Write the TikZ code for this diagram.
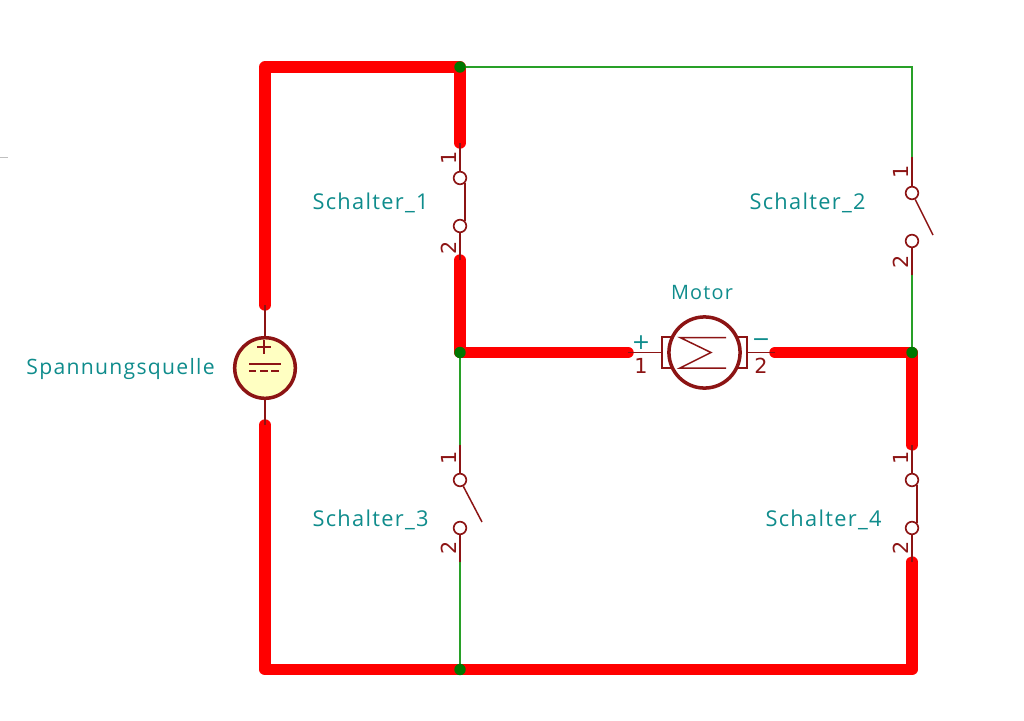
\documentclass[tikz,border=0pt]{standalone}
\usepackage{fontspec}
\setmainfont[LetterSpace=6]{Open Sans}
\newfontfamily\pinfont{DejaVu Sans}
\usetikzlibrary{backgrounds}
\definecolor{symbolred}{RGB}{140,20,20}
\definecolor{labelteal}{RGB}{15,140,140}
\definecolor{wiregreen}{RGB}{40,160,40}
\definecolor{junctiongreen}{RGB}{0,120,0}
\definecolor{sourcefill}{RGB}{255,255,194}
\tikzset{
  activewire/.style={draw=red,line width=6.5pt,line cap=round,line join=round},
  wire/.style={draw=wiregreen,line width=0.6pt},
  pin/.style={draw=symbolred,line width=0.85pt},
  junction/.style={shape=circle,fill=junctiongreen,inner sep=0pt,minimum size=6.5pt},
  contact/.style={shape=circle,draw=symbolred,fill=white,line width=0.95pt,inner sep=0pt,minimum size=7.2pt},
  reflabel/.style={text=labelteal,font=\fontsize{12.4}{14}\selectfont,inner sep=0pt},
  pinnum/.style={text=symbolred,font=\pinfont\fontsize{11.8}{13}\selectfont,inner sep=0pt},
  pinnumv/.style={pinnum,rotate=90},
  polarity/.style={text=labelteal,font=\pinfont\fontsize{12.5}{14}\selectfont,inner sep=0pt}
}
\begin{document}
\begin{tikzpicture}[x=0.02cm,y=-0.02cm]
\useasboundingbox (0,0) rectangle (1024,720);
\fill[black!25] (0,156.5) rectangle (8,157.5);

% junctions and corners
\node[junction] (jtop) at (460,67) {};
\node[junction] (jleft) at (460,352.5) {};
\node[junction] (jright) at (912,352.5) {};
\node[junction] (jbot) at (460,669.5) {};
\coordinate (topleft) at (265,67);
\coordinate (topright) at (912,67);
\coordinate (botleft) at (265,669.5);
\coordinate (botright) at (912,669.5);

% source
\node[shape=circle,draw=symbolred,fill=sourcefill,line width=2pt,inner sep=0pt,minimum size=34.5pt] (source) at (265,368) {};
\coordinate (srcup) at (265,305);
\coordinate (srcdown) at (265,425);
\draw[pin] (srcup) -- (source);
\draw[pin] (srcdown) -- (source);
\node[shape=rectangle,inner sep=0pt,minimum size=0pt] (srcplus) at (264,347) {};
\draw[pin,line width=0.9pt] (srcplus)+(-7,0) -- +(7,0) (srcplus)+(0,-7) -- +(0,7);
\draw[pin,line width=0.9pt] (249,364) -- (281,364);
\draw[pin,line width=0.9pt,dash pattern=on 4.2pt off 2.2pt] (249,371) -- (281,371);
\node[reflabel,font=\fontsize{12.05}{14}\selectfont,anchor=east] (sourcelabel) at (215,369) {Spannungsquelle};

% closed switch 1
\node[contact] (s1a) at (460,178) {};
\node[contact] (s1b) at (460,226) {};
\coordinate (s1up) at (460,143);
\coordinate (s1down) at (460,260);
\draw[pin] (s1up) -- (s1a);
\draw[pin] (s1down) -- (s1b);
\draw[pin] (s1a.south east) -- (s1b.north east);
\node[pinnumv] (s1n1) at (449,158) {1};
\node[pinnumv] (s1n2) at (449,248) {2};
\node[reflabel,anchor=east] (s1label) at (429,203) {Schalter\_1};

% open switch 2
\node[contact] (s2a) at (912,193) {};
\node[contact] (s2b) at (912,241) {};
\coordinate (s2up) at (912,157);
\coordinate (s2down) at (912,275);
\coordinate (s2lever) at (933,235);
\draw[pin] (s2up) -- (s2a);
\draw[pin] (s2down) -- (s2b);
\draw[pin] (s2a) -- (s2lever);
\node[pinnumv] (s2n1) at (901,172) {1};
\node[pinnumv] (s2n2) at (901,262) {2};
\node[reflabel,anchor=east] (s2label) at (866,203) {Schalter\_2};

% open switch 3
\node[contact] (s3a) at (460,480) {};
\node[contact] (s3b) at (460,528) {};
\coordinate (s3up) at (460,445);
\coordinate (s3down) at (460,562);
\coordinate (s3lever) at (482,522);
\draw[pin] (s3up) -- (s3a);
\draw[pin] (s3down) -- (s3b);
\draw[pin] (s3a) -- (s3lever);
\node[pinnumv] (s3n1) at (449,458) {1};
\node[pinnumv] (s3n2) at (449,548) {2};
\node[reflabel,anchor=east] (s3label) at (429,520) {Schalter\_3};

% closed switch 4
\node[contact] (s4a) at (912,480) {};
\node[contact] (s4b) at (912,528) {};
\coordinate (s4up) at (912,445);
\coordinate (s4down) at (912,562);
\draw[pin] (s4up) -- (s4a);
\draw[pin] (s4down) -- (s4b);
\draw[pin] (s4a.south east) -- (s4b.north east);
\node[pinnumv] (s4n1) at (901,458) {1};
\node[pinnumv] (s4n2) at (901,548) {2};
\node[reflabel,anchor=east] (s4label) at (882,520) {Schalter\_4};

% motor
\coordinate (motleft) at (628,352.5);
\coordinate (motright) at (775,352.5);
\node[shape=rectangle,draw=symbolred,line width=0.85pt,inner sep=0pt,minimum width=48.2pt,minimum height=17.6pt] (motorbody) at (704.5,352.5) {};
\node[shape=circle,draw=symbolred,fill=white,line width=2pt,inner sep=0pt,minimum size=40.5pt] (motor) at (704.5,352.5) {};
\draw[pin] (motleft) -- (motorbody);
\draw[pin] (motright) -- (motorbody);
\draw[pin] (726,337.5) -- (680,337.5) -- (711,352.5) -- (680,368) -- (726,368);
\node[polarity] (motplus) at (641,343) {+};
\node[polarity] (motminus) at (761,343) {\char"2212};
\node[pinnum] (motn1) at (641,366) {1};
\node[pinnum] (motn2) at (761,366) {2};
\node[reflabel,font=\fontsize{11.3}{14}\selectfont] (motorlabel) at (702,293) {Motor};

\begin{scope}[on background layer]
\path [activewire] (srcup) -- (topleft) -- (jtop.center) -- (s1up);
\path [activewire] (s1down) -- (jleft.center) -- (motleft);
\path [activewire] (motright) -- (jright.center) -- (s4up);
\path [activewire] (s4down) -- (botright) -- (botleft) -- (srcdown);
\path [wire] (jtop.center) -- (topright) -- (s2up);
\path [wire] (s2down) -- (jright.center);
\path [wire] (jleft.center) -- (s3up);
\path [wire] (s3down) -- (jbot.center);
\end{scope}
\end{tikzpicture}
\end{document}
